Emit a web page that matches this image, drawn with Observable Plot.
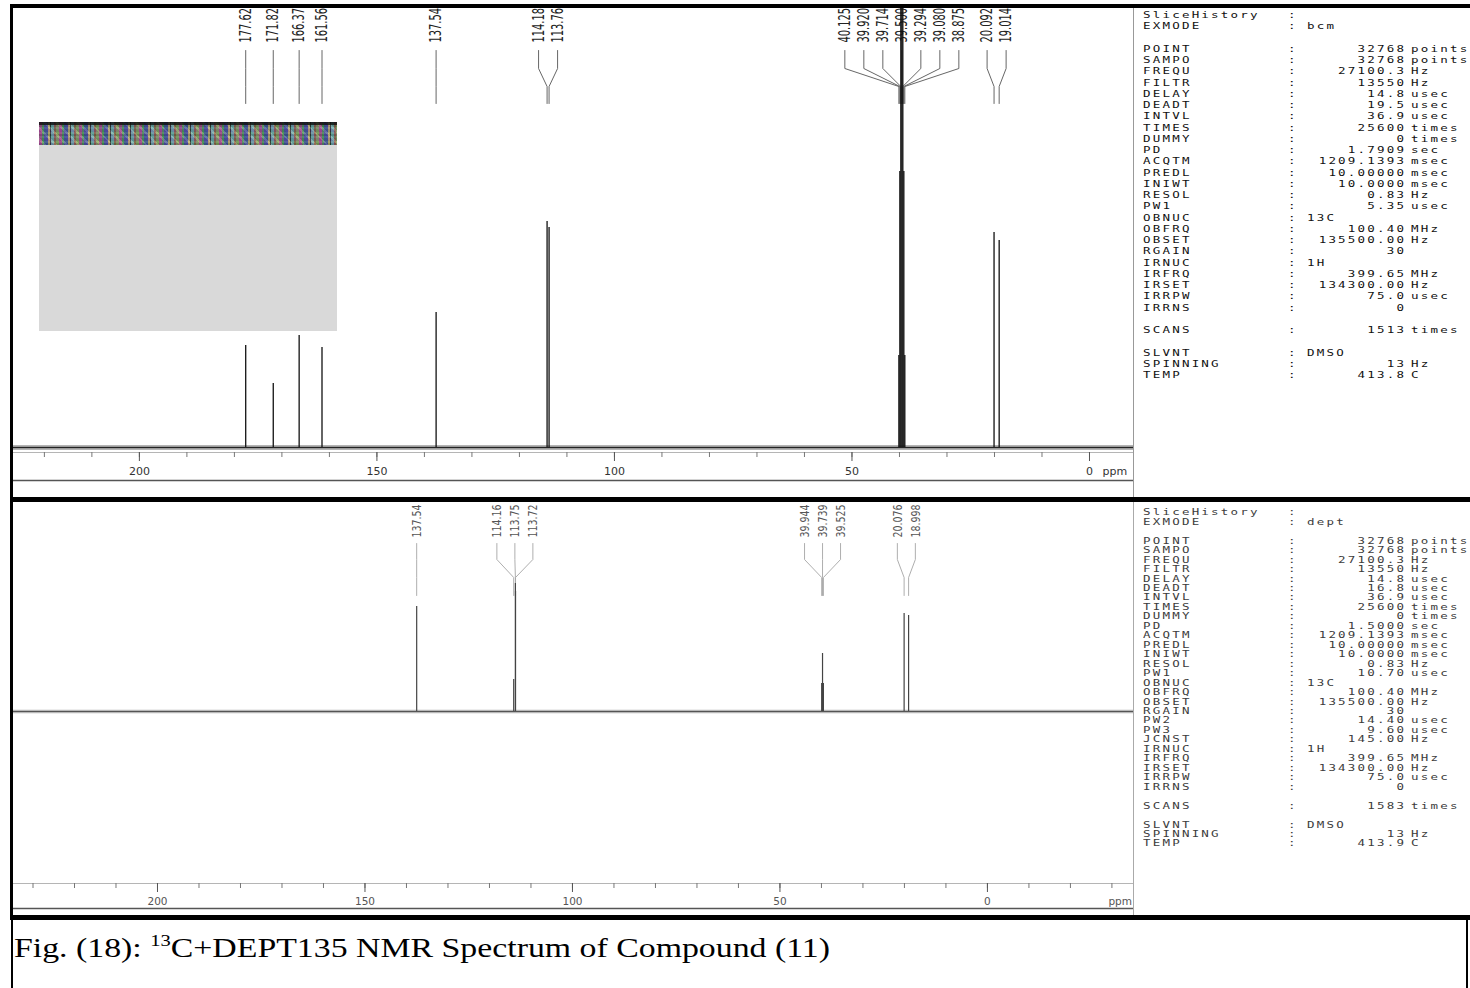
<!DOCTYPE html>
<html><head><meta charset="utf-8">
<script src="https://cdn.jsdelivr.net/npm/d3@7"></script>
<script src="https://cdn.jsdelivr.net/npm/@observablehq/plot@0.6"></script>
<style>
body{margin:0;background:#fff;}
#page{position:relative;width:1470px;height:988px;overflow:hidden;background:#fff;}
.p{position:absolute;white-space:pre;line-height:1;font-family:"DejaVu Sans Mono",monospace;}
</style></head><body><div id="page"></div>
<script>
// ---------------- DATA ----------------
// 13C spectrum (top)
const topPpm    = [177.62, 171.82, 166.37, 161.56, 137.54, 114.18, 113.76, 40.125, 39.920, 39.714, 39.500, 39.294, 39.080, 38.875, 20.092, 19.014];
const topHeight = [25.5, 16, 28, 25, 33.75, 56.5, 55, 23, 69, 130, 130, 130, 69, 23, 53.75, 51.75];
const topLabel  = ["177.62","171.82","166.37","161.56","137.54","114.18","113.76","40.125","39.920","39.714","39.500","39.294","39.080","38.875","20.092","19.014"];
const topGroup  = [0,1,2,3,4,5,5,6,6,6,6,6,6,6,7,7];
// DEPT135 spectrum (bottom)
const botPpm    = [137.54, 114.16, 113.75, 113.72, 39.944, 39.739, 39.525, 20.076, 18.998];
const botHeight = [26.25, 8, 32, 30, 7, 14.5, 7, 24.5, 24];
const botLabel  = ["137.54","114.16","113.75","113.72","39.944","39.739","39.525","20.076","18.998"];
const botGroup  = [0,1,1,1,2,2,2,3,3];
// axis tick labels (ppm)
const axisLabels = [200, 150, 100, 50, 0];
// acquisition parameter blocks
const topParamNames  = ["SliceHistory","EXMODE","","POINT","SAMPO","FREQU","FILTR","DELAY","DEADT","INTVL","TIMES","DUMMY","PD","ACQTM","PREDL","INIWT","RESOL","PW1","OBNUC","OBFRQ","OBSET","RGAIN","IRNUC","IRFRQ","IRSET","IRRPW","IRRNS","","SCANS","","SLVNT","SPINNING","TEMP"];
const topParamValues = ["","bcm","","32768","32768","27100.3","13550","14.8","19.5","36.9","25600","0","1.7909","1209.1393","10.00000","10.0000","0.83","5.35","13C","100.40","135500.00","30","1H","399.65","134300.00","75.0","0","","1513","","DMSO","13","413.8"];
const topParamUnits  = ["","","","points","points","Hz","Hz","usec","usec","usec","times","times","sec","msec","msec","msec","Hz","usec","","MHz","Hz","","","MHz","Hz","usec","","","times","","","Hz","C"];
const botParamNames  = ["SliceHistory","EXMODE","","POINT","SAMPO","FREQU","FILTR","DELAY","DEADT","INTVL","TIMES","DUMMY","PD","ACQTM","PREDL","INIWT","RESOL","PW1","OBNUC","OBFRQ","OBSET","RGAIN","PW2","PW3","JCNST","IRNUC","IRFRQ","IRSET","IRRPW","IRRNS","","SCANS","","SLVNT","SPINNING","TEMP"];
const botParamValues = ["","dept","","32768","32768","27100.3","13550","14.8","16.8","36.9","25600","0","1.5000","1209.1393","10.00000","10.0000","0.83","10.70","13C","100.40","135500.00","30","14.40","9.60","145.00","1H","399.65","134300.00","75.0","0","","1583","","DMSO","13","413.9"];
const botParamUnits  = ["","","","points","points","Hz","Hz","usec","usec","usec","times","times","sec","msec","msec","msec","Hz","usec","","MHz","Hz","","usec","usec","Hz","","MHz","Hz","usec","","","times","","","Hz","C"];
const captionPre = "Fig. (18): ";
const captionSup = "13";
const captionPost = "C+DEPT135 NMR Spectrum of Compound (11)";

// ---------------- LAYOUT ----------------
const page = document.getElementById("page");
function box(css){const d=document.createElement("div");d.style.cssText="position:absolute;"+css;page.appendChild(d);return d;}

const TOP = {left:13, top:8, width:1120, height:489, base:447, k:4, ppmL:226.5, ppmR:-9.263, ppx:4.75, spacing:19};
const BOT = {left:13, top:502, width:1120, height:413, base:711, k:4, ppmL:234.7, ppmR:-35.2, ppx:4.15, spacing:18};
const T = py => (TOP.base - py)/TOP.k;
const B = py => (BOT.base - py)/BOT.k;

function buildPeaks(ppm, h, lab, grp, P){
  const peaks = ppm.map((p,i)=>({ppm:p, h:h[i], label:lab[i], g:grp[i], id:i}));
  for (const [, arr] of d3.group(peaks, d=>d.g)) {
    const mean = d3.mean(arr, d=>d.ppm), n = arr.length;
    arr.forEach((d,i)=>{ d.lab = mean + ((n-1)/2 - i)*P.spacing/P.ppx; });
  }
  return peaks;
}
function leaders(peaks, ys, conv){
  const pts = [];
  peaks.forEach(d=>{
    pts.push({id:d.id, x:d.lab, y:conv(ys[0])});
    pts.push({id:d.id, x:d.lab, y:conv(ys[1])});
    pts.push({id:d.id, x:d.ppm, y:conv(ys[2])});
    pts.push({id:d.id, x:d.ppm, y:conv(ys[3])});
  });
  return pts;
}
const topPeaks = buildPeaks(topPpm, topHeight, topLabel, topGroup, TOP);
const botPeaks = buildPeaks(botPpm, botHeight, botLabel, botGroup, BOT);
const labFont = '"Liberation Sans Narrow","DejaVu Sans Condensed","Arial Narrow",sans-serif';
const axFont = '"DejaVu Sans",sans-serif';

function makePlot(P, peaks, conv, o){
  const ticks10 = d3.range(Math.ceil(P.ppmR/10)*10, P.ppmL, 10);
  const svg = Plot.plot({
    width:P.width, height:P.height, margin:0,
    x:{domain:[P.ppmL,P.ppmR], range:[0,P.width], axis:null},
    y:{domain:[0,100], range:[P.base-P.top, P.base-P.top-100*P.k], axis:null},
    style:{background:"transparent", overflow:"visible"},
    marks:[
      // noisy baseline band
      Plot.ruleY([0], {stroke:o.noise, strokeWidth:o.noiseW, strokeOpacity:0.75}),
      Plot.ruleY([0], {stroke:o.base, strokeWidth:1.2}),
      // axis
      Plot.ruleY([conv(o.axisY)], {stroke:"#b5b5b5", strokeWidth:1}),
      Plot.ruleX(ticks10.filter(t=>t>=o.tickMin), {x:d=>d, y1:()=>conv(o.axisY), y2:()=>conv(o.axisY+5), stroke:"#777", strokeWidth:1}),
      Plot.ruleX(axisLabels, {x:d=>d, y1:()=>conv(o.axisY), y2:()=>conv(o.axisY+9), stroke:"#555", strokeWidth:1}),
      Plot.text(axisLabels, {x:d=>d, y:()=>conv(o.labY), text:d=>String(d), fontSize:o.axFs, fontFamily:axFont, fill:o.axFill, letterSpacing:1}),
      Plot.text(["ppm"], {x:()=>0, y:()=>conv(o.labY), text:d=>d, dx:o.ppmDx, textAnchor:"start", fontSize:o.axFs, fontFamily:axFont, fill:o.axFill, letterSpacing:1}),
      Plot.ruleY([conv(o.lineY)], {stroke:"#555", strokeWidth:1.6}),
      // leader lines and labels
      Plot.line(leaders(peaks, o.lead, conv), {x:"x", y:"y", z:"id", stroke:o.leadCol, strokeWidth:0.9}),
      Plot.text(peaks, {x:"lab", y:()=>conv(o.labBottom), text:"label", rotate:-90, textAnchor:"start", fontSize:o.labFs, fontFamily:labFont, fill:o.labFill}),
      // peaks
      Plot.ruleX(peaks, {x:"ppm", y1:0, y2:"h", stroke:o.peakCol, strokeWidth:o.peakW, clip:true})
    ]
  });
  svg.querySelectorAll("text").forEach(t=>{
    const tr = t.getAttribute("transform")||"";
    if (tr.includes("rotate")) t.setAttribute("transform", tr+` scale(1,${o.stretch})`);
  });
  const holder = box(`left:${P.left}px;top:${P.top}px;width:${P.width}px;height:${P.height}px;`);
  holder.appendChild(svg);
}

makePlot(TOP, topPeaks, T, {noise:"#7a7a7a", noiseW:4.5, base:"#222", axisY:452, tickMin:0, labY:471, lineY:480, axFs:11, axFill:"#333", ppmDx:13,
  lead:[50,68,86,103], leadCol:"#555", labBottom:42, labFs:11, labFill:"#222", stretch:1.45, peakCol:"#111", peakW:1.3});
makePlot(BOT, botPeaks, B, {noise:"#a0a0a0", noiseW:3.5, base:"#555", axisY:883, tickMin:-40, labY:901, lineY:908, axFs:10.5, axFill:"#555", ppmDx:121,
  lead:[543,559,577,595], leadCol:"#a5a5a5", labBottom:537, labFs:10.5, labFill:"#555", stretch:1.25, peakCol:"#444", peakW:1.2});

// inset grey box with noisy band
box("left:39px;top:122px;width:298px;height:209px;background:#d9d9d9;");
box("left:39px;top:122px;width:298px;height:23px;background:"+
  "repeating-linear-gradient(90deg,rgba(200,60,160,.5) 0 3px,rgba(60,170,80,.5) 3px 5px,rgba(50,70,190,.5) 5px 9px,rgba(230,200,110,.5) 9px 11px,rgba(20,20,20,.55) 11px 12px,rgba(110,200,210,.5) 12px 15px,rgba(170,90,60,.5) 15px 17px,rgba(150,190,90,.5) 17px 20px),"+
  "repeating-linear-gradient(45deg,rgba(90,60,120,.5) 0 3px,rgba(200,200,170,.4) 3px 5px,rgba(40,90,60,.5) 5px 8px),"+
  "repeating-linear-gradient(0deg,#4a4a4a 0 2px,#9aa58a 2px 4px,#6a5a7a 4px 7px,#8a9aa0 7px 9px);");
box("left:39px;top:122px;width:298px;height:3px;background:rgba(10,10,10,.8);");

// frame
box("left:10px;top:4px;width:1460px;height:4px;background:#000;");
box("left:10px;top:4px;width:3px;height:916px;background:#000;");
box("left:10px;top:497px;width:1460px;height:5px;background:#000;");
box("left:10px;top:915px;width:1460px;height:5px;background:#000;");
box("left:1133px;top:8px;width:1px;height:489px;background:#999;");
box("left:1133px;top:502px;width:1px;height:413px;background:#aaa;");
box("left:11px;top:920px;width:2px;height:68px;background:#000;");
box("left:1466px;top:920px;width:2px;height:68px;background:#000;");

// parameter panels
function params(names, vals, units, y0, step, fs, sy, ls, col){
  const put = (css, txt) => { const d = box(css); d.className = "p"; d.textContent = txt; };
  names.forEach((n,i)=>{
    if(!n) return;
    const y = y0 + i*step, top = y - fs/2;
    const st = `top:${top}px;font-size:${fs}px;height:${fs}px;letter-spacing:${ls}px;color:${col};transform:scaleY(${sy});transform-origin:50% 50%;`;
    put(st+"left:1143px;", n);
    put(st+"left:1288px;", ":");
    const v = vals[i];
    if (v) {
      if (isNaN(+v)) put(st+"left:1307px;", v);
      else put(st+`right:${1470-1404-ls}px;`, v);
    }
    if (units[i]) put(st+"left:1411px;", units[i]);
  });
}
params(topParamNames, topParamValues, topParamUnits, 15.2, 11.26, 12.5, 0.75, 2.2, "#111");
params(botParamNames, botParamValues, botParamUnits, 512.6, 9.46, 12.5, 0.63, 2.2, "#3c3c3c");

// caption
const cap = box("left:14px;top:931px;font-family:'Liberation Serif','Times New Roman',serif;font-size:28px;color:#000;white-space:nowrap;transform-origin:0 0;");
cap.appendChild(document.createTextNode(captionPre));
const sup = document.createElement("span"); sup.textContent = captionSup; sup.style.cssText="font-size:17px;vertical-align:11px;";
cap.appendChild(sup);
cap.appendChild(document.createTextNode(captionPost));
const w = cap.getBoundingClientRect().width;
cap.style.transform = `scaleX(${816/w})`;
</script></body></html>
